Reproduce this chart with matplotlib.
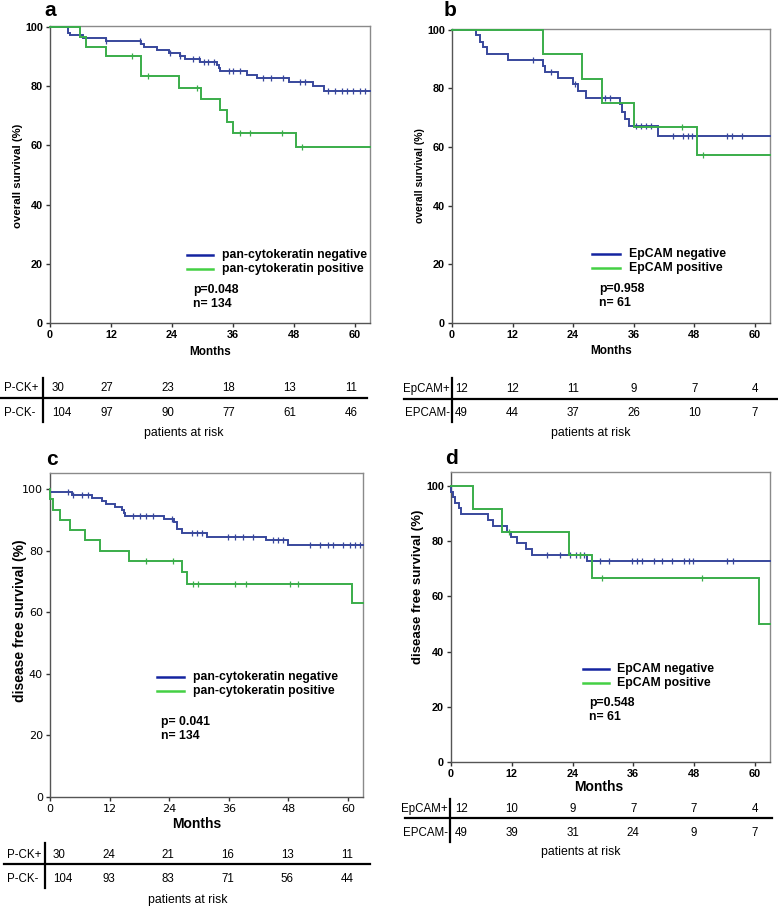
import numpy as np
import matplotlib
matplotlib.use('Agg')
import matplotlib.pyplot as plt
from matplotlib.lines import Line2D
from matplotlib.transforms import blended_transform_factory, offset_copy

# ---------------- data ----------------
months_ticks = [0, 12, 24, 36, 48, 60]
y_ticks = [0, 20, 40, 60, 80, 100]

# panel a: overall survival, pan-cytokeratin
a_neg_times = [3.5, 4.0, 6.5, 11.0, 18.0, 18.5, 21.0, 23.5, 25.5, 26.5, 29.5, 32.8, 33.2, 33.5, 38.7, 40.7, 47.0, 51.8, 54.0]
a_neg_surv = [98.1, 97.1, 96.2, 95.2, 94.2, 93.2, 92.2, 91.2, 90.2, 89.2, 88.2, 87.1, 86.1, 85.0, 83.8, 82.7, 81.5, 80.1, 78.4]
a_neg_cens = [11.1, 17.7, 23.6, 25.6, 28.2, 29.3, 30.4, 31.1, 32.3, 35.3, 36.1, 37.4, 42.0, 43.6, 45.9, 49.2, 50.2, 54.8, 56.1, 57.4, 58.4, 59.7, 61.0, 62.0]
a_pos_times = [6.0, 7.0, 11.0, 18.0, 25.3, 29.7, 33.5, 34.8, 36.0, 48.5]
a_pos_surv = [96.7, 93.3, 90.0, 83.3, 79.5, 75.7, 71.9, 68.0, 64.3, 59.4]
a_pos_cens = [16.1, 19.3, 29.0, 37.4, 39.3, 45.6, 49.7]

# panel b: overall survival, EpCAM
b_neg_times = [4.7, 5.5, 6.2, 7.0, 11.0, 18.0, 18.5, 21.0, 24.0, 25.0, 26.5, 33.2, 33.6, 34.2, 35.0, 40.8]
b_neg_surv = [98.0, 95.9, 93.9, 91.8, 89.8, 87.7, 85.7, 83.6, 81.5, 79.0, 76.7, 74.5, 72.0, 69.5, 67.0, 63.6]
b_neg_cens = [16.1, 19.6, 24.3, 30.3, 31.3, 36.5, 37.5, 38.5, 39.5, 43.7, 45.8, 46.7, 47.5, 54.4, 55.4, 57.4]
b_pos_times = [18.0, 25.7, 29.7, 36.0, 48.5]
b_pos_surv = [91.7, 83.3, 75.0, 66.7, 57.1]
b_pos_cens = [45.6, 49.8]

# panel c: disease free survival, pan-cytokeratin
c_neg_times = [0.0, 4.5, 8.5, 10.5, 11.2, 13.0, 14.5, 14.8, 15.0, 23.0, 25.0, 25.5, 26.5, 31.5, 43.5, 48.0]
c_neg_surv = [99.0, 98.1, 97.1, 96.1, 95.1, 94.2, 93.2, 92.2, 91.2, 90.2, 89.2, 87.1, 85.6, 84.5, 83.3, 81.7]
c_neg_cens = [3.7, 4.6, 6.4, 7.7, 16.8, 18.1, 19.4, 20.8, 24.5, 28.5, 29.5, 30.5, 35.9, 37.2, 38.9, 40.9, 44.9, 45.9, 46.9, 52.3, 54.3, 56.0, 57.0, 59.0, 60.3, 61.3, 62.3]
c_pos_times = [0.0, 0.7, 2.0, 4.0, 7.0, 10.0, 16.0, 26.5, 27.5, 60.8]
c_pos_surv = [96.7, 93.3, 90.0, 86.7, 83.3, 80.0, 76.7, 73.0, 69.1, 62.9]
c_pos_cens = [19.4, 24.8, 28.8, 29.8, 37.2, 39.5, 48.3, 49.9]

# panel d: disease free survival, EpCAM
d_neg_times = [0.0, 0.3, 0.8, 1.5, 2.0, 7.3, 8.3, 11.0, 11.8, 13.0, 14.8, 16.0, 26.8]
d_neg_surv = [98.0, 96.0, 94.0, 91.9, 89.8, 87.7, 85.6, 83.5, 81.4, 79.3, 77.2, 75.1, 72.7]
d_neg_cens = [18.9, 21.6, 23.6, 24.6, 25.5, 26.2, 29.5, 31.2, 35.8, 36.8, 37.8, 40.1, 41.7, 43.7, 46.0, 47.0, 47.7, 54.6, 55.6]
d_pos_times = [4.3, 10.0, 23.3, 27.8, 60.8]
d_pos_surv = [91.7, 83.3, 75.0, 66.7, 50.0]
d_pos_cens = [11.4, 25.5, 29.8, 49.6]

# patients at risk
a_risk_top = [30, 27, 23, 18, 13, 11]
a_risk_bot = [104, 97, 90, 77, 61, 46]
b_risk_top = [12, 12, 11, 9, 7, 4]
b_risk_bot = [49, 44, 37, 26, 10, 7]
c_risk_top = [30, 24, 21, 16, 13, 11]
c_risk_bot = [104, 93, 83, 71, 56, 44]
d_risk_top = [12, 10, 9, 7, 7, 4]
d_risk_bot = [49, 39, 31, 24, 9, 7]

# ---------------- styling ----------------
W, H = 778, 907
DPI = 100
BLUE = '#38479c'
GREEN = '#3aad4a'
BLUE_L = '#1424a0'
GREEN_L = '#44d044'
AR = 'Liberation Sans'
XMAX = 63
TAB_FS = 8.3
LEG_FS = 8.8

fig = plt.figure(figsize=(W / DPI, H / DPI), dpi=DPI)


def rect(l, t, r, b):
    return [l / W, 1 - b / H, (r - l) / W, (b - t) / H]


def fy(py):
    return 1 - py / H


def fx(px):
    return px / W


def surv_at(times, surv, t):
    idx = np.searchsorted(np.asarray(times), t, side='right') - 1
    return 100.0 if idx < 0 else surv[idx]


def curve(ax, times, surv, cens, color):
    x = [0.0] + list(times) + [XMAX]
    y = [100.0] + list(surv) + [surv[-1]]
    ax.step(x, y, where='post', color=color, lw=1.4, solid_joinstyle='miter', clip_on=False, zorder=3)
    cy = [surv_at(times, surv, t) for t in cens]
    ax.plot(cens, cy, linestyle='none', marker='|', ms=4, mew=0.9, color=color, clip_on=False, zorder=3)


def panel(r, ytop, series, letter, letter_xy, ylabel, ylab_xy, ylab_fs, months_xy, months_fs,
          leg_labels, leg_line, leg_text_x, leg_rows, ptext, p_xy, tick_font, tick_bold, tick_fs):
    ax = fig.add_axes(rect(*r))
    for times, surv, cens, col in series:
        curve(ax, times, surv, cens, col)
    ax.set_xlim(0, XMAX)
    ax.set_ylim(0, ytop)
    ax.set_xticks(months_ticks)
    ax.set_yticks(y_ticks)
    for s in ax.spines.values():
        s.set_color('#8a8a8a')
        s.set_linewidth(1.0)
    ax.spines['left'].set_color('#555555')
    ax.spines['bottom'].set_color('#555555')
    ax.tick_params(direction='out', length=3, width=1, color='#333333', pad=2)
    for lab in ax.get_xticklabels() + ax.get_yticklabels():
        lab.set_fontfamily(tick_font)
        lab.set_fontsize(tick_fs)
        lab.set_fontweight('bold' if tick_bold else 'normal')
    fig.text(fx(letter_xy[0]), fy(letter_xy[1]), letter, fontsize=15, fontweight='bold',
             family=AR, ha='left', va='center')
    fig.text(fx(ylab_xy[0]), fy(ylab_xy[1]), ylabel, rotation=90, fontsize=ylab_fs,
             fontweight='bold', family=AR, ha='center', va='center')
    fig.text(fx(months_xy[0]), fy(months_xy[1]), 'Months', fontsize=months_fs,
             fontweight='bold', family=AR, ha='center', va='center')
    for lab, col, yy in zip(leg_labels, [BLUE_L, GREEN_L], leg_rows):
        fig.add_artist(Line2D([fx(leg_line[0]), fx(leg_line[1])], [fy(yy), fy(yy)], color=col, lw=1.8))
        fig.text(fx(leg_text_x), fy(yy), lab, fontsize=LEG_FS, fontweight='bold', family=AR,
                 ha='left', va='center')
    for txt, yy in zip(ptext, p_xy[1]):
        fig.text(fx(p_xy[0]), fy(yy), txt, fontsize=LEG_FS, fontweight='bold', family=AR,
                 ha='left', va='center')
    return ax


def risk_table(ax, labels, rows, ys, hline, vline, label_x, label_ha, first_dx, other_dx, par_xy):
    trans = blended_transform_factory(ax.transData, fig.transFigure)
    for lab, vals, yy in zip(labels, rows, ys):
        fig.text(fx(label_x), fy(yy), lab, fontsize=TAB_FS, family=AR, ha=label_ha, va='center')
        for i, (m, v) in enumerate(zip(months_ticks, vals)):
            if i == 0:
                t = offset_copy(trans, fig=fig, x=first_dx, y=0, units='dots')
                ax.text(m, fy(yy), str(v), transform=t, fontsize=TAB_FS, family=AR,
                        ha='left', va='center', clip_on=False)
            else:
                t = offset_copy(trans, fig=fig, x=other_dx, y=0, units='dots')
                ax.text(m, fy(yy), str(v), transform=t, fontsize=TAB_FS, family=AR,
                        ha='center', va='center', clip_on=False)
    fig.add_artist(Line2D([fx(hline[0]), fx(hline[1])], [fy(hline[2]), fy(hline[2])], color='black', lw=1.6))
    fig.add_artist(Line2D([fx(vline[0]), fx(vline[0])], [fy(vline[1]), fy(vline[2])], color='black', lw=1.6))
    fig.text(fx(par_xy[0]), fy(par_xy[1]), 'patients at risk', fontsize=8.8, family=AR,
             ha='center', va='center')


# panel a
ax_a = panel((50, 26, 370, 323), 100.3,
             [(a_neg_times, a_neg_surv, a_neg_cens, BLUE), (a_pos_times, a_pos_surv, a_pos_cens, GREEN)],
             'a', (44, 10), 'overall survival (%)', (18, 176), 8.2, (210, 352), 8.5,
             ['pan-cytokeratin negative', 'pan-cytokeratin positive'], (187, 213), 222, (255, 269),
             ['p=0.048', 'n= 134'], (193, (290, 304)), AR, True, 7.8)
risk_table(ax_a, ['P-CK+', 'P-CK-'], [a_risk_top, a_risk_bot], (388, 413), (0, 367, 398),
           (43, 378, 422), 4, 'left', 2, -4, (184, 433))

# panel b
ax_b = panel((452, 29, 770, 323), 100.2,
             [(b_neg_times, b_neg_surv, b_neg_cens, BLUE), (b_pos_times, b_pos_surv, b_pos_cens, GREEN)],
             'b', (444, 10), 'overall survival (%)', (420, 176), 7.5, (611, 351), 8.5,
             ['EpCAM negative', 'EpCAM positive'], (592, 620), 629, (254, 268),
             ['p=0.958', 'n= 61'], (599, (289, 303)), AR, True, 7.8)
risk_table(ax_b, ['EpCAM+', 'EPCAM-'], [b_risk_top, b_risk_bot], (389, 413), (404, 777, 399),
           (452, 378, 422), 450, 'right', 3, 0, (591, 433))

# panel c
ax_c = panel((50, 473, 363, 797), 105.2,
             [(c_neg_times, c_neg_surv, c_neg_cens, BLUE), (c_pos_times, c_pos_surv, c_pos_cens, GREEN)],
             'c', (46, 460), 'disease free survival (%)', (20, 621), 10, (197, 824), 10,
             ['pan-cytokeratin negative', 'pan-cytokeratin positive'], (157, 184), 193, (677, 691),
             ['p= 0.041', 'n= 134'], (161, (722, 736)), 'DejaVu Sans', False, 8)
risk_table(ax_c, ['P-CK+', 'P-CK-'], [c_risk_top, c_risk_bot], (855, 879), (4, 370, 864),
           (45, 843, 888), 7, 'left', 3, -1, (188, 900))

# panel d
ax_d = panel((451, 472, 770, 762), 105.1,
             [(d_neg_times, d_neg_surv, d_neg_cens, BLUE), (d_pos_times, d_pos_surv, d_pos_cens, GREEN)],
             'd', (445, 459), 'disease free survival (%)', (418, 587), 9.5, (599, 787), 10,
             ['EpCAM negative', 'EpCAM positive'], (583, 609), 617, (669, 683),
             ['p=0.548', 'n= 61'], (589, (703, 717)), AR, True, 7.8)
risk_table(ax_d, ['EpCAM+', 'EPCAM-'], [d_risk_top, d_risk_bot], (809, 833), (405, 772, 818),
           (450, 799, 842), 448, 'right', 4, 0, (581, 852))

fig.savefig('out.png', dpi=DPI)
